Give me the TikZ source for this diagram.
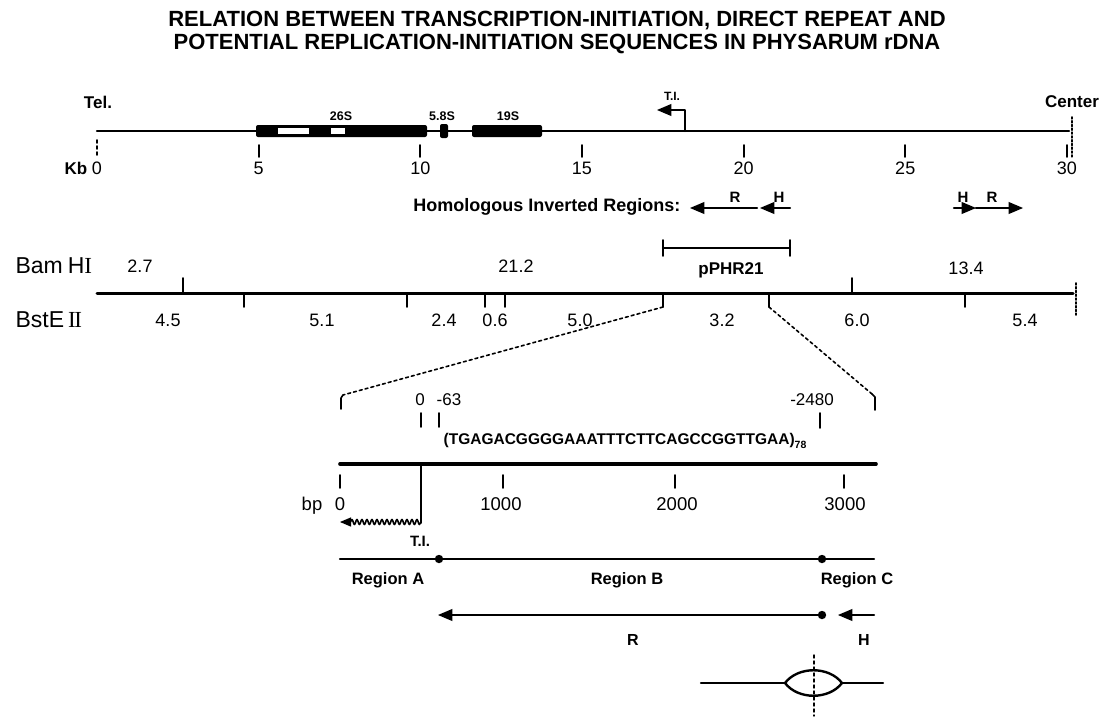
\documentclass[tikz,border=0pt]{standalone}
\usepackage{fontspec}
\setmainfont{Liberation Sans}
\newfontfamily\romfont{Liberation Serif}
\usepackage{tikz}
\usetikzlibrary{arrows}
\usetikzlibrary{decorations.pathmorphing}
\tikzset{
  ttl/.style={font=\bfseries\fontsize{22}{24}\selectfont},
  blab/.style={font=\bfseries\fontsize{17}{20}\selectfont},
  slab/.style={font=\bfseries\fontsize{12.5}{14}\selectfont},
  num/.style={font=\fontsize{18}{20}\selectfont},
  enz/.style={font=\fontsize{23}{25}\selectfont,anchor=west},
  seq/.style={font=\bfseries\fontsize{15.5}{18}\selectfont},
  reg/.style={font=\bfseries\fontsize{16.5}{18}\selectfont},
  tk/.style={line width=1.8pt},
  ln/.style={line width=2.4pt}
}
\begin{document}
\begin{tikzpicture}[line cap=round,line join=round,>=triangle 45,x=1pt,y=-1pt]
\useasboundingbox (0,0) rectangle (1109,716);
% title
\draw[color=black] (557,21) node[ttl] (title1) {RELATION BETWEEN TRANSCRIPTION-INITIATION, DIRECT REPEAT AND};
\draw[color=black] (557,44) node[ttl] (title2) {POTENTIAL REPLICATION-INITIATION SEQUENCES IN PHYSARUM rDNA};
% kb map
\coordinate (tel) at (97,131);
\coordinate (cen) at (1069,131);
\draw [ln] (tel)-- (cen);
\fill [rounded corners=2pt] (256,125) rectangle (427,137);
\fill [white] (278,128) rectangle (309,134);
\fill [white] (331,128) rectangle (345,134);
\fill [rounded corners=2pt] (440,124) rectangle (448,138);
\fill [rounded corners=2pt] (472,125) rectangle (542,137);
\draw[color=black] (341,116) node[slab] (r26) {26S};
\draw[color=black] (442,116) node[slab] (r58) {5.8S};
\draw[color=black] (508,116) node[slab] (r19) {19S};
\draw[color=black] (98,102) node[blab] (tellab) {Tel.};
\draw[color=black] (1072,102) node[blab] (cenlab) {Center};
\draw [tk,dotted] (1072,117)-- (1072,157);
\draw [tk,dashed] (97,140)-- (97,156);
\draw[color=black] (76,168) node[blab] (kb) {Kb};
\draw[color=black] (97,168) node[num] (k0) {0};
\foreach \k in {5,10,...,30} {
  \draw [tk] (97+32.33*\k,145)-- (97+32.33*\k,157);
  \draw[color=black] (97+32.33*\k,168) node[num] (k\k) {\k};
}
% transcription start
\coordinate (ti) at (685,131);
\draw [ln,->] (ti)-- (685,110)-- (657,110);
\draw[color=black] (672,96) node[font=\bfseries\fontsize{12}{14}\selectfont] (tilab) {T.I.};
% inverted regions
\draw[color=black] (684,207) node[anchor=east,font=\bfseries\fontsize{18}{20}\selectfont] (hom) {Homologous Inverted Regions:};
\draw [ln,->] (757,208)-- (690,208);
\draw [ln,->] (790,208)-- (760,208);
\draw [ln,->] (954,208)-- (976,208);
\draw [ln,->] (976,208)-- (1023,208);
\draw[color=black] (735,197) node[font=\bfseries\fontsize{15}{17}\selectfont] (rl) {R};
\draw[color=black] (779,197) node[font=\bfseries\fontsize{15}{17}\selectfont] (hl) {H};
\draw[color=black] (963,197) node[font=\bfseries\fontsize{15}{17}\selectfont] (hr) {H};
\draw[color=black] (992,197) node[font=\bfseries\fontsize{15}{17}\selectfont] (rr) {R};
% restriction map
\draw [line width=3pt] (97,293)-- (1073,293);
\draw [tk,dotted] (1076,283)-- (1076,315);
\foreach \x in {183,852} \draw [tk] (\x,293)-- (\x,278);
\foreach \x in {244,407,485,505,663,769,965} \draw [tk] (\x,293)-- (\x,307);
\draw[color=black] (12,266) node[enz] (bam) {Bam\hspace{5pt}H{\romfont I}};
\draw[color=black] (12,320) node[enz] (bst) {BstE\hspace{4pt}{\romfont I\hspace{-1.5pt}I}};
\draw[color=black] (140,266) node[num] (b1) {2.7};
\draw[color=black] (516,266) node[num] (b2) {21.2};
\draw[color=black] (966,268) node[num] (b3) {13.4};
\draw[color=black] (168,320) node[num] (e1) {4.5};
\draw[color=black] (322,320) node[num] (e2) {5.1};
\draw[color=black] (444,320) node[num] (e3) {2.4};
\draw[color=black] (495,320) node[num] (e4) {0.6};
\draw[color=black] (580,320) node[num] (e5) {5.0};
\draw[color=black] (722,320) node[num] (e6) {3.2};
\draw[color=black] (857,320) node[num] (e7) {6.0};
\draw[color=black] (1025,320) node[num] (e8) {5.4};
% clone
\draw [ln] (663,248)-- (790,248);
\draw [tk] (663,240)-- (663,256);
\draw [tk] (790,240)-- (790,256);
\draw[color=black] (731,270) node[blab] (clone) {pPHR21};
% enlargement
\coordinate (zl) at (663,307);
\coordinate (zr) at (769,307);
\draw [line width=1.6pt,dashed] (zl)-- (343,395);
\draw [line width=1.6pt] (343,395)-- (341,398)-- (341,409);
\draw [line width=1.6pt,dashed] (zr)-- (872,394);
\draw [line width=1.6pt] (872,394)-- (875,397)-- (875,410);
\draw[color=black] (420,400) node[num,font=\fontsize{17}{20}\selectfont] (p0) {0};
\draw[color=black] (449,400) node[num,font=\fontsize{17}{20}\selectfont] (p63) {-63};
\draw[color=black] (812,400) node[num,font=\fontsize{17}{20}\selectfont] (p2480) {-2480};
\draw [tk] (421,413)-- (421,427);
\draw [tk] (439,413)-- (439,427);
\draw [tk] (820,413)-- (820,428);
\draw[color=black] (625,441) node[seq] (rep) {(TGAGACGGGGAAATTTCTTCAGCCGGTTGAA)\raisebox{-0.5ex}{\fontsize{10.5}{12}\selectfont 78}};
\draw [line width=3.6pt] (340,464)-- (876,464);
\foreach \x in {340,503,675,844} \draw [tk] (\x,475)-- (\x,488);
\draw[color=black] (312,510) node[num,anchor=base,font=\fontsize{18.5}{20}\selectfont] (bp) {bp};
\draw[color=black] (340,510) node[num,anchor=base,font=\fontsize{18.5}{20}\selectfont] (q0) {0};
\draw[color=black] (501,510) node[num,anchor=base,font=\fontsize{18.5}{20}\selectfont] (q1) {1000};
\draw[color=black] (677,510) node[num,anchor=base,font=\fontsize{18.5}{20}\selectfont] (q2) {2000};
\draw[color=black] (845,510) node[num,anchor=base,font=\fontsize{18.5}{20}\selectfont] (q3) {3000};
% transcript
\coordinate (tib) at (421,464);
\draw [tk] (tib)-- (421,523);
\draw [line width=1.6pt,->,decorate,decoration={snake,amplitude=2.5pt,segment length=5pt,post length=9pt}] (421,522)-- (340,522);
\draw[color=black] (420,541) node[font=\bfseries\fontsize{15}{17}\selectfont] (tilab2) {T.I.};
% regions
\coordinate (ra) at (439,559);
\coordinate (rc) at (822,559);
\draw [ln] (340,559)-- (874,559);
\fill (ra) circle (4.2);
\fill (rc) circle (4.2);
\draw[color=black] (388,580) node[reg] (rega) {Region A};
\draw[color=black] (627,580) node[reg] (regb) {Region B};
\draw[color=black] (857,580) node[reg] (regc) {Region C};
\coordinate (rdot) at (822,615);
\draw [ln,->] (rdot)-- (438,615);
\draw [ln,->] (874,615)-- (838,615);
\fill (rdot) circle (4.2);
\draw[color=black] (633,640) node[font=\bfseries\fontsize{16}{18}\selectfont] (rlab) {R};
\draw[color=black] (864,640) node[font=\bfseries\fontsize{16}{18}\selectfont] (hlab) {H};
% replication eye
\draw [ln] (701,683)-- (785,683);
\draw [ln] (842,683)-- (883,683);
\draw [ln] (785,683) .. controls (798,666) and (829,666) .. (842,683);
\draw [ln] (785,683) .. controls (798,700) and (829,700) .. (842,683);
\draw [line width=1.4pt,dashed] (814,655)-- (814,716);
\end{tikzpicture}
\end{document}
